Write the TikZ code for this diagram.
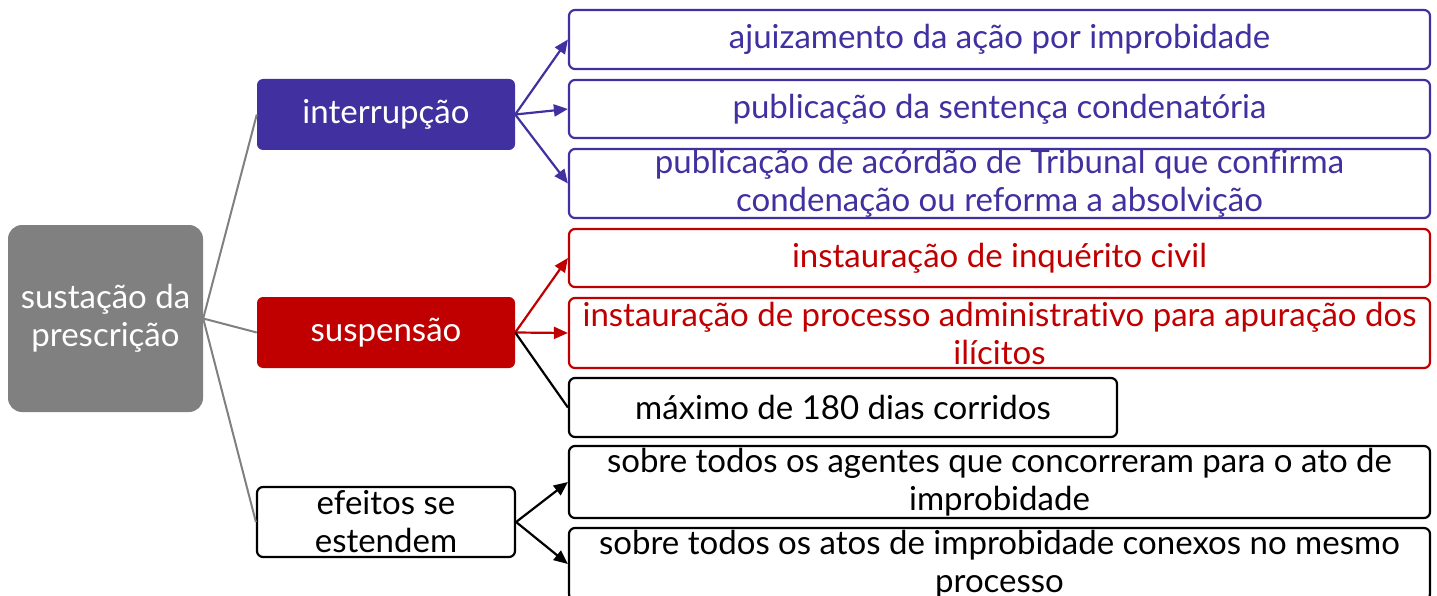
\documentclass[tikz,border=0pt]{standalone}
\usepackage{fontspec}
\setmainfont{Lato}[Ligatures={NoCommon}]
\usetikzlibrary{arrows.meta}
\definecolor{purp}{RGB}{64,48,160}
\definecolor{dred}{RGB}{192,0,0}
\definecolor{rootgray}{RGB}{128,128,128}
\tikzset{
  base/.style={rounded corners=6pt, inner sep=0pt, align=center, font=\fontsize{33}{38}\selectfont},
  rootbox/.style={base, fill=rootgray, text=white, rounded corners=14pt},
  midbox/.style={base, text=white},
  leaf/.style={base, draw, line width=2.2pt, fill=white},
  arr/.style={line width=2.2pt, -{Triangle[length=14pt,width=12pt]}},
  rootline/.style={line width=2pt, draw=rootgray},
}
\begin{document}
\begin{tikzpicture}[x=1pt,y=-1pt]
\useasboundingbox (0,0) rectangle (1437,596);
\clip (0,0) rectangle (1437,596);
\node[rootbox, minimum width=195pt, minimum height=187pt] (root) at (105.5,318.5) {sustação da\\prescrição};
\node[midbox, fill=purp, minimum width=258pt, minimum height=71pt] (int) at (386,114.5) {interrupção};
\node[midbox, fill=dred, minimum width=258pt, minimum height=71pt] (sus) at (386,332.5) {suspensão};
\node[leaf, draw=black, minimum width=258pt, minimum height=70pt] (efe) at (386,522) {efeitos se\\estendem};

\node[leaf, draw=purp, text=purp, minimum width=861pt, minimum height=59pt] (a1) at (999.5,39.5) {ajuizamento da ação por improbidade};
\node[leaf, draw=purp, text=purp, minimum width=861pt, minimum height=58pt] (a2) at (999.5,109) {publicação da sentença condenatória};
\node[leaf, draw=purp, text=purp, minimum width=861pt, minimum height=69pt] (a3) at (999.5,183.5) {publicação de acórdão de Tribunal que confirma\\condenação ou reforma a absolvição};
\node[leaf, draw=dred, text=dred, minimum width=861pt, minimum height=58pt] (b1) at (999.5,258) {instauração de inquérito civil};
\node[leaf, draw=dred, text=dred, minimum width=861pt, minimum height=70pt] (b2) at (999.5,333) {instauração de processo administrativo para apuração dos\\ilícitos};
\node[leaf, draw=black, minimum width=548pt, minimum height=59pt] (b3) at (843,407.5) {máximo de 180 dias corridos};
\node[leaf, draw=black, minimum width=861pt, minimum height=72pt] (c1) at (999.5,482) {sobre todos os agentes que concorreram para o ato de\\improbidade};
\node[leaf, draw=black, minimum width=861pt, minimum height=72pt] (c2) at (999.5,564) {sobre todos os atos de improbidade conexos no mesmo\\processo};

\draw[rootline] (root.east) -- (int.west);
\draw[rootline] (root.east) -- (sus.west);
\draw[rootline] (root.east) -- (efe.west);

\draw[arr, purp] (int.east) -- (a1.west);
\draw[arr, purp] (int.east) -- (a2.west);
\draw[arr, purp] (int.east) -- (a3.west);
\draw[arr, dred] (sus.east) -- (b1.west);
\draw[arr, dred] (sus.east) -- (b2.west);
\draw[line width=2.2pt, black] (sus.east) -- (b3.west);
\draw[arr, black] (efe.east) -- (c1.west);
\draw[arr, black] (efe.east) -- (c2.west);
\end{tikzpicture}
\end{document}
